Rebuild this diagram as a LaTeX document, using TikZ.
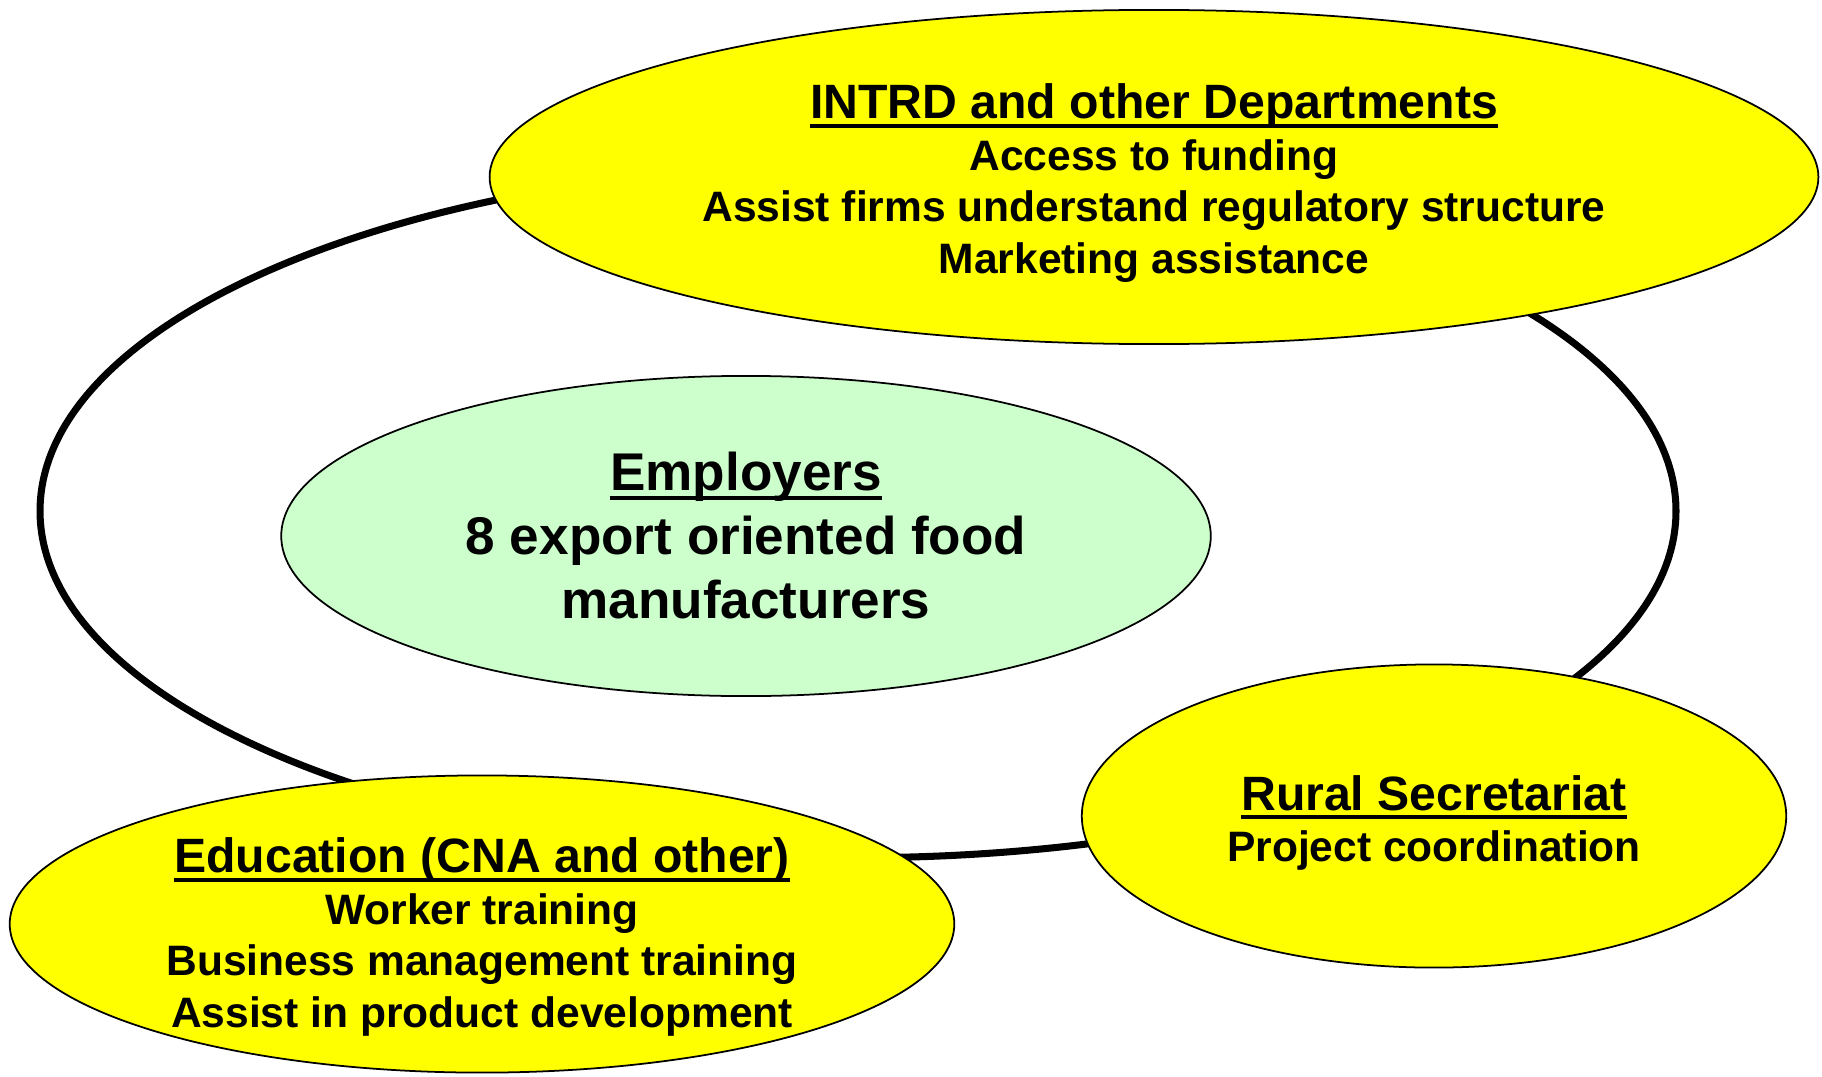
\documentclass[tikz,border=0pt]{standalone}
\usepackage{fontspec}
\setmainfont{Liberation Sans}
\usetikzlibrary{shapes.geometric}

\definecolor{empgreen}{HTML}{CCFFCC}
\definecolor{partyellow}{HTML}{FFFF00}

% underlined heading with a heavier rule
\newcommand{\hdline}[1]{\setbox0\hbox{#1}\rlap{\raisebox{-2.6pt}{\rule{\wd0}{1.1pt}}}\box0}
\newcommand{\hdsize}{\fontsize{13.7}{14.7}\selectfont}

\begin{document}
\begin{tikzpicture}[x=0.01cm,y=-0.01cm,
  ring/.style={ellipse,draw,line width=2pt,inner sep=0pt},
  partner/.style={ellipse,draw,line width=0.5pt,fill=partyellow,inner sep=0pt},
  partnertext/.style={inner sep=0pt,align=center,font=\bfseries\fontsize{12.1}{14.7}\selectfont},
  employer/.style={ellipse,draw,line width=0.5pt,fill=empgreen,inner sep=0pt,align=center,
    font=\bfseries\fontsize{15.1}{18.2}\selectfont}]
  \useasboundingbox (0,0) rectangle (1822,1076);
  % the loop joining the partners
  \node[ring,minimum width=16.35cm,minimum height=6.93cm] (loop) at (858,511) {};
  \node[employer,minimum width=9.29cm,minimum height=3.2cm] (emp) at (746,536)
    {\hdline{Employers}\\8 export oriented food\\manufacturers};
  % partners
  \node[partner,minimum width=13.28cm,minimum height=3.34cm] (intrd) at (1154,177) {};
  \node[partner,minimum width=7.04cm,minimum height=3.03cm] (rural) at (1434,816) {};
  \node[partner,minimum width=9.44cm,minimum height=2.97cm] (edu) at (482,924) {};
  \node[partnertext] (intrdtext) at ([yshift=-0.06cm]intrd.center)
    {\hdline{\hdsize INTRD and other Departments}\\Access to funding\\
     Assist firms understand regulatory structure\\Marketing assistance};
  \node[partnertext] (ruraltext) at ([yshift=-0.07cm]rural.center)
    {\hdline{\hdsize Rural Secretariat}\\Project coordination};
  \node[partnertext] (edutext) at ([yshift=-0.13cm]edu.center)
    {\hdline{\hdsize Education (CNA and other)}\\Worker training\\
     Business management training\\Assist in product development};
\end{tikzpicture}
\end{document}
